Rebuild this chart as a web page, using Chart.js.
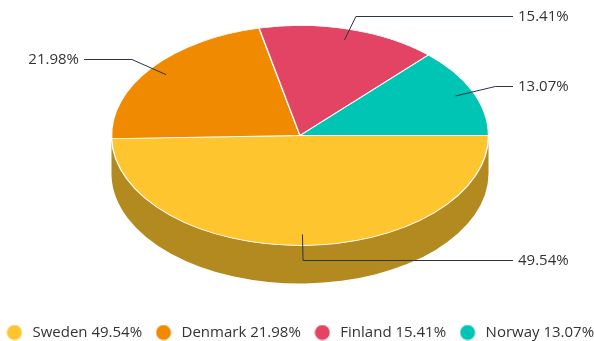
<!DOCTYPE html>
<html>
<head>
<meta charset="utf-8">
<script src="https://cdn.jsdelivr.net/npm/chart.js@4"></script>
<style>
  html, body { margin: 0; padding: 0; background: #fff; }
  #wrap { width: 594px; height: 341px; }
</style>
</head>
<body>
<div id="wrap"><canvas id="pie" width="594" height="341"></canvas></div>
<script>
const countries = ["Sweden", "Denmark", "Finland", "Norway"];
const shares = [49.54, 21.98, 15.41, 13.07];
const colors = ["#ffc52e", "#f08a00", "#e34463", "#00c4b4"];

// ellipse the pie top is projected onto, plus thickness of the rim
const CX = 300, CY = 135.5, RX = 188.5, RY = 110, DEPTH = 38;

function shade(hex, f) {
  const n = parseInt(hex.slice(1), 16);
  const r = Math.round(((n >> 16) & 255) * f);
  const g = Math.round(((n >> 8) & 255) * f);
  const b = Math.round((n & 255) * f);
  return `rgb(${r}, ${g}, ${b})`;
}

function legendDot(color) {
  const c = document.createElement("canvas");
  c.width = 16;
  c.height = 16;
  const g = c.getContext("2d");
  g.fillStyle = color;
  g.beginPath();
  g.arc(8, 8, 7.5, 0, Math.PI * 2);
  g.fill();
  return c;
}
const dots = colors.map(legendDot);

// squash the pie into an ellipse and give it a rim
const pie3d = {
  id: "pie3d",
  beforeDatasetsDraw(chart) {
    const ctx = chart.ctx;
    const arcs = chart.getDatasetMeta(0).data;
    ctx.save();
    arcs.forEach((arc, i) => {
      const a = Math.max(arc.startAngle, 0);
      const b = Math.min(arc.endAngle, Math.PI);
      if (b <= a) return;
      ctx.beginPath();
      ctx.ellipse(CX, CY, RX, RY, 0, a, b);
      ctx.ellipse(CX, CY + DEPTH, RX, RY, 0, b, a, true);
      ctx.closePath();
      ctx.fillStyle = shade(colors[i], 0.7);
      ctx.fill();
    });
    const { x, y, outerRadius } = arcs[0];
    ctx.translate(CX, CY);
    ctx.scale(RX / outerRadius, RY / outerRadius);
    ctx.translate(-x, -y);
  },
  afterDatasetsDraw(chart) {
    const ctx = chart.ctx;
    ctx.restore();
    const arcs = chart.getDatasetMeta(0).data;
    ctx.save();
    ctx.strokeStyle = "#2a3540";
    ctx.lineWidth = 1;
    ctx.fillStyle = "#333";
    ctx.font = "15px 'Open Sans'";
    ctx.textBaseline = "middle";
    arcs.forEach((arc, i) => {
      const mid = (arc.startAngle + arc.endAngle) / 2;
      const c = Math.cos(mid), s = Math.sin(mid);
      const x1 = CX + 0.9 * RX * c, y1 = CY + 0.9 * RY * s;
      const x2 = CX + 1.13 * RX * c;
      const y2 = Math.round(CY + 1.13 * RY * s) + 0.5;
      const right = c >= 0;
      const x3 = right ? 513 : 84;
      ctx.beginPath();
      ctx.moveTo(x1, y1);
      ctx.lineTo(x2, y2);
      ctx.lineTo(x3, y2);
      ctx.stroke();
      ctx.textAlign = right ? "left" : "right";
      ctx.fillText(shares[i].toFixed(2) + "%", right ? 518 : 79, y2);
    });
    ctx.restore();
  }
};

Chart.defaults.font.family = "'Open Sans', sans-serif";

new Chart(document.getElementById("pie"), {
  type: "pie",
  data: {
    labels: countries,
    datasets: [
      {
        data: shares,
        backgroundColor: colors,
        borderColor: "#fff",
        borderWidth: 1.4,
      },
    ],
  },
  options: {
    responsive: false,
    animation: false,
    rotation: 90,
    radius: RX,
    clip: false,
    // let the legend row use the full width of the canvas
    layout: { padding: { left: -13, right: -17, bottom: -9 } },
    plugins: {
      tooltip: { enabled: false },
      legend: {
        position: "bottom",
        labels: {
          usePointStyle: true,
          pointStyleWidth: 21,
          padding: 11,
          color: "#333",
          font: { size: 15 },
          generateLabels: () =>
            countries.map((name, i) => ({
              text: `${name} ${shares[i].toFixed(2)}%`,
              fillStyle: colors[i],
              strokeStyle: colors[i],
              lineWidth: 0,
              pointStyle: dots[i],
              fontColor: "#333",
              hidden: false,
              index: i,
            })),
        },
      },
    },
  },
  plugins: [pie3d],
});
</script>
</body>
</html>
